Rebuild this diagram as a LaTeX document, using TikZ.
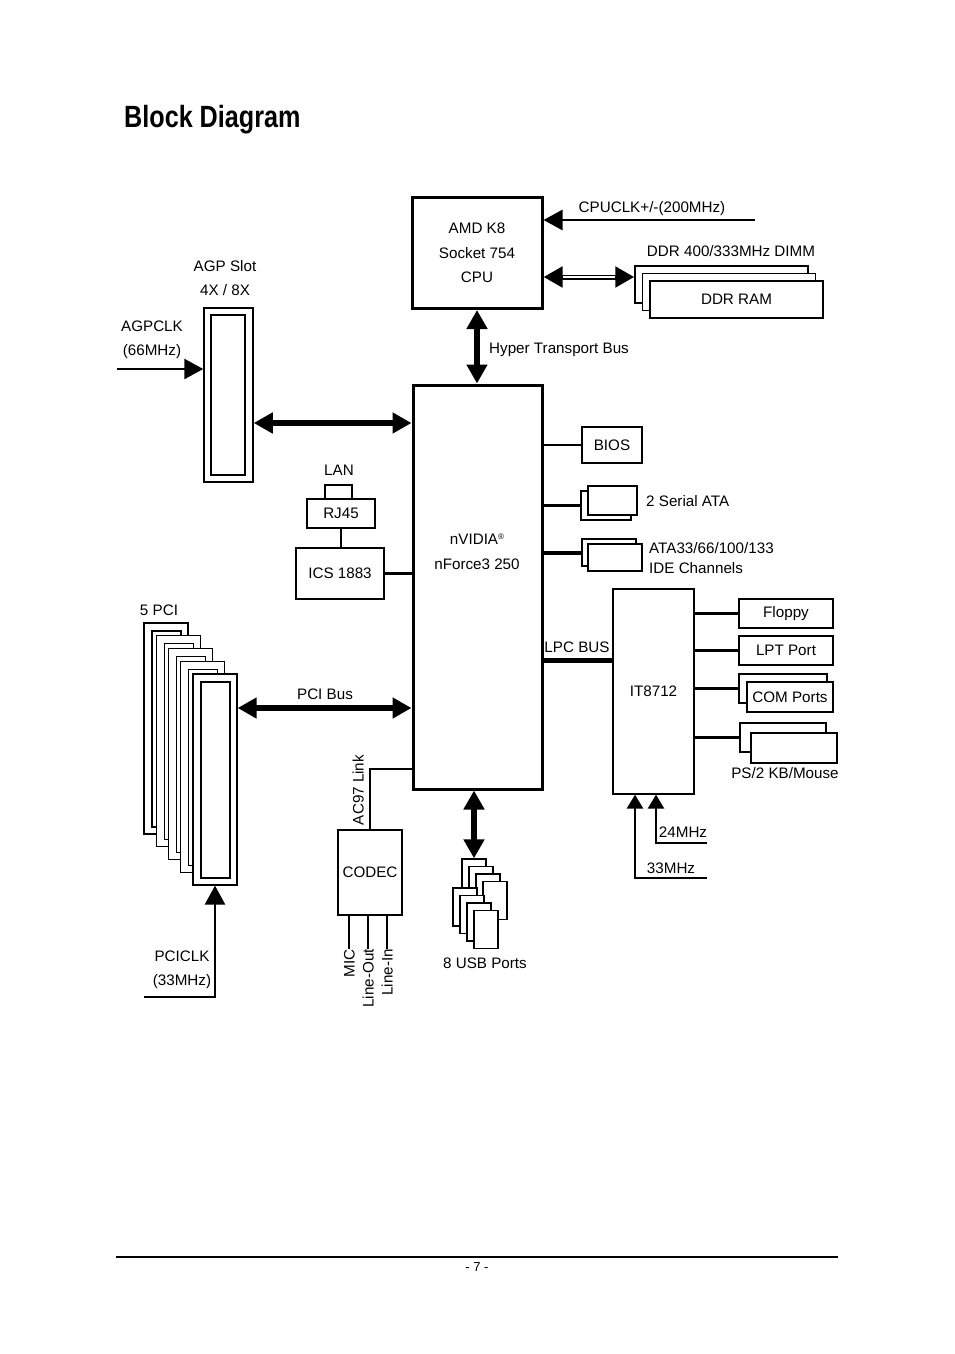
\documentclass[tikz,border=0pt]{standalone}
\usepackage{fontspec}
\setmainfont{Liberation Sans}
\usepackage{graphicx}
\usetikzlibrary{arrows.meta}

\begin{document}
\begin{tikzpicture}[x=1pt,y=-1pt,
    font=\fontsize{15.2}{24.5}\selectfont,
    >={Triangle[length=19pt,width=20pt]},
    box/.style={draw,line width=1.3pt,fill=white,inner sep=0pt},
    chip/.style={draw,line width=3pt,fill=white,inner sep=0pt},
    lbl/.style={inner sep=0pt,text height=11pt,text depth=0pt},
    sig/.style={line width=2.7pt},
    bus/.style={line width=5.5pt,<->}]
    \useasboundingbox (0,0) rectangle (954,1354);

    \node[anchor=base west,inner sep=0pt,font=\fontsize{30.7}{36}\selectfont\bfseries] (title) at (124,127) {\scalebox{0.82}[1]{Block Diagram}};

    % chips
    \node[chip,minimum width=130pt,minimum height=111pt,align=center] (cpu) at (477,253) {AMD K8\\Socket 754\\CPU};
    \node[chip,minimum width=129pt,minimum height=404pt] (nf) at (477.5,587) {};
    \node[align=center,inner sep=0pt] (nflbl) at (477,552) {nVIDIA\raisebox{5pt}{\fontsize{8}{8}\selectfont ®}\\nForce3 250};

    % cpu side
    \coordinate (clkin) at (755,220);
    \draw[sig,->] (clkin) -- (clkin -| cpu.east);
    \node[lbl] (clklbl) at (652,207) {CPUCLK+/-(200MHz)};
    \node[box,minimum width=173pt,minimum height=37pt] (ddrA) at (721.5,284.5) {};
    \node[box,minimum width=173pt,minimum height=37pt] (ddrB) at (729,292) {};
    \node[box,minimum width=173pt,minimum height=37pt] (ddrC) at (736.5,299.5) {DDR RAM};
    \node[lbl] (ddrlbl) at (731,251) {DDR 400/333MHz DIMM};
    \coordinate (ddrin) at ([yshift=7.5pt]ddrA.west);
    \draw[line width=5pt,<->] (cpu.east |- ddrin) -- (ddrin);
    \draw[white,line width=2pt,shorten <=19pt,shorten >=19pt] (cpu.east |- ddrin) -- (ddrin);
    \draw[bus] (cpu.south) -- (cpu.south |- nf.north);
    \node[lbl,anchor=west] (htlbl) at (489,348) {Hyper Transport Bus};

    % agp
    \node[box,line width=1.5pt,minimum width=49pt,minimum height=174pt] (agp) at (228.5,395) {};
    \node[box,minimum width=34pt,minimum height=160pt] (agpin) at (228,395) {};
    \node[align=center,inner sep=0pt] (agplbl) at (225,278) {AGP Slot\\4X / 8X};
    \node[align=center,inner sep=0pt] (agpclklbl) at (152,340) {AGPCLK\\(66MHz)};
    \coordinate (agpclk) at (117,369);
    \draw[sig,->] (agpclk) -- (agpclk -| agp.west);
    \coordinate (agpbus) at ([yshift=-28pt]agp.east);
    \draw[bus] (agpbus) -- (agpbus -| nf.west);

    % lan
    \node[box,minimum width=27pt,minimum height=14pt] (lan) at (338.5,492) {};
    \node[box,minimum width=68pt,minimum height=29pt] (rj45) at (341,513.5) {RJ45};
    \node[box,minimum width=88pt,minimum height=51pt] (ics) at (340,573.5) {ICS 1883};
    \node[lbl] (lanlbl) at (339,470) {LAN};
    \draw[sig] (rj45.south) -- (rj45.south |- ics.north);
    \draw[sig] (ics.east) -- (ics.east -| nf.west);

    % bios, sata, ide
    \node[box,minimum width=60pt,minimum height=36pt] (bios) at (612,445) {BIOS};
    \draw[sig] (bios.west) -- (bios.west -| nf.east);
    \node[box,minimum width=50pt,minimum height=29pt] (sataB) at (606,505.5) {};
    \node[box,minimum width=49pt,minimum height=29pt] (sataA) at (612.5,500.5) {};
    \node[lbl,anchor=west] (satalbl) at (646,501) {2 Serial ATA};
    \draw[sig] (sataB.west) -- (sataB.west -| nf.east);
    \node[box,minimum width=54pt,minimum height=27pt] (ideA) at (609,552.5) {};
    \node[box,minimum width=54pt,minimum height=27pt] (ideB) at (615,557.5) {};
    \node[align=left,anchor=west,inner sep=0pt,font=\fontsize{15.2}{20}\selectfont] (idelbl) at (649,558) {ATA33/66/100/133\\IDE Channels};
    \draw[line width=4pt] (ideA.west) -- (ideA.west -| nf.east);

    % super i/o
    \node[box,minimum width=81pt,minimum height=205pt] (it) at (653.5,691.5) {IT8712};
    \coordinate (lpc) at ([yshift=31.5pt]it.west);
    \draw[line width=5pt] (lpc) -- (lpc -| nf.east);
    \node[lbl] (lpclbl) at (577,647) {LPC BUS};
    \node[box,minimum width=94pt,minimum height=29pt] (floppy) at (786,613.5) {Floppy};
    \node[box,minimum width=94pt,minimum height=29pt] (lpt) at (786,650.5) {LPT Port};
    \node[box,minimum width=88pt,minimum height=29pt] (comA) at (783,688.5) {};
    \node[box,minimum width=86pt,minimum height=30pt] (comB) at (790,697) {COM Ports};
    \node[box,minimum width=86pt,minimum height=29pt] (ps2A) at (783,737.5) {};
    \node[box,minimum width=86pt,minimum height=30pt] (ps2B) at (794,748) {};
    \node[lbl] (ps2lbl) at (785,773) {PS/2 KB/Mouse};
    \draw[sig] (floppy.west) -- (floppy.west -| it.east);
    \draw[sig] (lpt.west) -- (lpt.west -| it.east);
    \draw[sig] (comA.west) -- (comA.west -| it.east);
    \draw[sig] (ps2A.west) -- (ps2A.west -| it.east);
    \coordinate (c24) at (707,843);
    \coordinate (c33) at (707,878);
    \draw[sig,-{Triangle[length=14pt,width=16pt]}] (c24) -| ([xshift=2.5pt]it.south);
    \draw[sig,-{Triangle[length=14pt,width=16pt]}] (c33) -| ([xshift=-18.5pt]it.south);
    \node[lbl] (c24lbl) at (683,832) {24MHz};
    \node[lbl] (c33lbl) at (671,868) {33MHz};

    % pci slots
    \node[box,minimum width=44pt,minimum height=211pt] (pci1) at (166,728.5) {};
    \node[box,minimum width=29pt,minimum height=196pt] (pci1in) at (166.5,729) {};
    \node[box,minimum width=44pt,minimum height=211pt] (pci2) at (178.25,741.25) {};
    \node[box,minimum width=29pt,minimum height=196pt] (pci2in) at (178.75,741.75) {};
    \node[box,minimum width=44pt,minimum height=211pt] (pci3) at (190.5,754) {};
    \node[box,minimum width=29pt,minimum height=196pt] (pci3in) at (191,754.5) {};
    \node[box,minimum width=44pt,minimum height=211pt] (pci4) at (202.75,766.75) {};
    \node[box,minimum width=29pt,minimum height=196pt] (pci4in) at (203.25,767.25) {};
    \node[box,minimum width=44pt,minimum height=211pt] (pci5) at (215,779.5) {};
    \node[box,minimum width=29pt,minimum height=196pt] (pci5in) at (215.5,780) {};
    \node[lbl] (pcilbl) at (159,610) {5 PCI};
    \coordinate (pcibus) at ([yshift=71.5pt]pci5.east);
    \draw[bus] (pcibus) -- (pcibus -| nf.west);
    \node[lbl] (pcibuslbl) at (325,694) {PCI Bus};
    \coordinate (pciclk) at (144,997);
    \draw[sig,->] (pciclk) -| (pci5.south);
    \node[align=center,inner sep=0pt] (pciclklbl) at (182,970) {PCICLK\\(33MHz)};

    % audio
    \node[box,minimum width=64pt,minimum height=85pt] (codec) at (370,872.5) {CODEC};
    \draw[sig] (codec.north) |- ([yshift=-182pt]nf.west);
    \node[lbl,rotate=90] (aclbl) at (358,790) {AC97 Link};
    \node[lbl,rotate=90,anchor=east] (mic) at (349,949) {MIC};
    \node[lbl,rotate=90,anchor=east] (lout) at (368,949) {Line-Out};
    \node[lbl,rotate=90,anchor=east] (lin) at (387,949) {Line-In};
    \draw[sig] (codec.south -| mic.east) -- (mic.east);
    \draw[sig] (codec.south -| lout.east) -- (lout.east);
    \draw[sig] (codec.south -| lin.east) -- (lin.east);

    % usb
    \node[box,minimum width=24pt,minimum height=38pt] (usbA) at (474,878) {};
    \node[box,minimum width=24pt,minimum height=38pt] (usbB) at (481,885.5) {};
    \node[box,minimum width=24pt,minimum height=38pt] (usbC) at (488,893) {};
    \node[box,minimum width=24pt,minimum height=38pt] (usbD) at (495,900.5) {};
    \node[box,minimum width=24pt,minimum height=38pt] (usbE) at (465,907) {};
    \node[box,minimum width=24pt,minimum height=38pt] (usbF) at (472,914.5) {};
    \node[box,minimum width=24pt,minimum height=38pt] (usbG) at (479,922) {};
    \node[box,minimum width=24pt,minimum height=38pt] (usbH) at (486,929.5) {};
    \draw[bus] (nf.south -| usbA.north) -- (usbA.north);
    \node[lbl] (usblbl) at (485,963) {8 USB Ports};

    % footer
    \draw[line width=1.8pt] (116,1257) -- (838,1257);
    \node[inner sep=0pt,font=\fontsize{13}{13}\selectfont] (page) at (477,1267) {- 7 -};
\end{tikzpicture}
\end{document}
